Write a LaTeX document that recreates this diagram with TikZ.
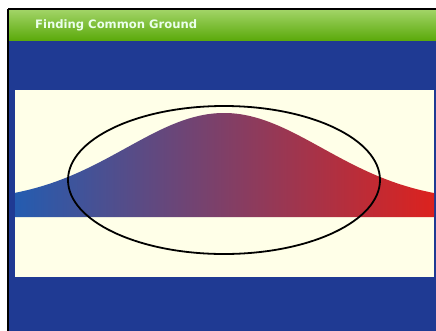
\documentclass[tikz,border=0pt]{standalone}
\usepackage{fontspec}
\setsansfont{DejaVu Sans}
\usepackage{tikz}
\usetikzlibrary{calc}
\definecolor{slideblue}{RGB}{31,58,147}
\definecolor{panelcream}{RGB}{255,255,232}
\definecolor{bartop}{RGB}{162,212,104}
\definecolor{barbot}{RGB}{92,170,12}
\definecolor{bellblue}{RGB}{36,92,176}
\definecolor{bellmid}{RGB}{112,60,122}
\definecolor{bellred}{RGB}{220,34,30}

\begin{document}
\begin{tikzpicture}[x=1pt,y=-1pt]
  \useasboundingbox (0,0) rectangle (436,330);
  % slide background
  \fill[white] (0,0) rectangle (436,330);
  \fill[slideblue] (8,8.5) rectangle (437,331);
  \shade[top color=bartop,bottom color=barbot] (8,9.5) rectangle (437,40);
  \node[anchor=west,inner sep=0pt,text=white!92!green,font=\sffamily\bfseries\fontsize{11.6}{13}\selectfont] (title) at (35,25) {Finding Common Ground};
  % cream panel
  \fill[panelcream] (15,90) rectangle (434,277);
  % bell curve
  \shade[left color=bellblue,middle color=bellmid,right color=bellred]
    (15,217) -- plot[domain=15:434,samples=90] (\x,{202-89*exp(-((\x-224)/98)^2/2)}) -- (434,217) -- cycle;
  % common ground
  \draw[black,line width=1.8pt] (224,180) ellipse [x radius=156,y radius=74];
  % frame
  \draw[black,line width=2pt] (8,8.5) -- (437,8.5);
  \draw[black,line width=2pt] (8,8.5) -- (8,331);
\end{tikzpicture}
\end{document}
